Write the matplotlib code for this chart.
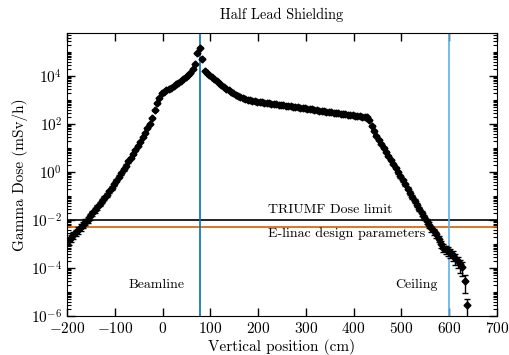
import numpy as np
import matplotlib
matplotlib.use('Agg')
from matplotlib import pyplot as plt
from matplotlib.ticker import LogLocator, LogFormatterSciNotation, MultipleLocator, NullFormatter

plt.rcParams['font.family'] = 'cmr10'
plt.rcParams['mathtext.fontset'] = 'cm'
plt.rcParams['axes.formatter.use_mathtext'] = True
plt.rcParams['font.size'] = 10

# Vertical positions (cm), one every 5 cm
position = np.arange(-197, 639, 5)

# log10 of gamma dose (mSv/h)
log_dose = [
    # -197 .. -2
    -2.85, -2.74, -2.63, -2.52, -2.41, -2.30, -2.19, -2.08, -1.98, -1.85,
    -1.72, -1.59, -1.46, -1.33, -1.20, -1.07, -0.94, -0.81, -0.66, -0.51,
    -0.36, -0.20, -0.05, 0.11, 0.27, 0.44, 0.60, 0.77, 0.93, 1.10,
    1.27, 1.44, 1.62, 1.82, 2.02, 2.25, 2.58, 2.87, 3.10, 3.28,
    # 3 .. 83
    3.34, 3.40, 3.46, 3.52, 3.58, 3.65, 3.72, 3.79, 3.87, 3.95,
    4.04, 4.13, 4.28, 4.49, 4.95, 5.18, 4.72,
    # 88 .. 218
    4.22, 4.12, 4.03, 3.94, 3.86, 3.78, 3.70, 3.62, 3.55, 3.48,
    3.41, 3.35, 3.29, 3.23, 3.18, 3.13, 3.09, 3.05, 3.02, 2.99,
    2.97, 2.95, 2.93, 2.915, 2.90, 2.89, 2.88,
    # 223 .. 428
    2.87, 2.85, 2.84, 2.82, 2.81, 2.80, 2.78, 2.77, 2.75, 2.74,
    2.72, 2.71, 2.70, 2.68, 2.67, 2.65, 2.64, 2.62, 2.61, 2.59,
    2.58, 2.56, 2.54, 2.53, 2.51, 2.50, 2.48, 2.47, 2.45, 2.44,
    2.42, 2.41, 2.40, 2.38, 2.37, 2.36, 2.35, 2.33, 2.32, 2.31,
    2.30, 2.28,
    # 433 .. 638
    2.15, 1.92, 1.72, 1.52, 1.35, 1.18, 1.01, 0.84, 0.67, 0.50,
    0.33, 0.16, -0.01, -0.18, -0.35, -0.52, -0.69, -0.86, -1.03, -1.20,
    -1.37, -1.54, -1.71, -1.88, -2.05, -2.20, -2.35, -2.48, -2.60, -2.78,
    -3.00, -3.15, -3.22, -3.28, -3.35, -3.45, -3.58, -3.70, -3.85, -3.95,
    -4.54, -5.54,
]

# relative error on each point
rel_err = [
    0.35, 0.34, 0.33, 0.32, 0.31, 0.30, 0.29, 0.28, 0.27, 0.26,
    0.25, 0.24, 0.23, 0.22, 0.21, 0.20, 0.19, 0.18, 0.17, 0.16,
    0.15, 0.14, 0.13, 0.12, 0.11, 0.10, 0.10, 0.09, 0.09, 0.08,
    0.08, 0.07, 0.07, 0.06, 0.06, 0.05, 0.05, 0.05, 0.04, 0.04,
    0.04, 0.04, 0.04, 0.04, 0.04, 0.04, 0.04, 0.04, 0.04, 0.04,
    0.04, 0.04, 0.04, 0.04, 0.04, 0.04, 0.04,
    0.04, 0.04, 0.04, 0.04, 0.04, 0.04, 0.04, 0.04, 0.04, 0.04,
    0.04, 0.04, 0.04, 0.04, 0.04, 0.04, 0.04, 0.04, 0.04, 0.04,
    0.04, 0.04, 0.04, 0.04, 0.04, 0.04, 0.04,
    0.04, 0.04, 0.04, 0.04, 0.04, 0.04, 0.04, 0.04, 0.04, 0.04,
    0.04, 0.04, 0.04, 0.04, 0.04, 0.04, 0.04, 0.04, 0.04, 0.04,
    0.04, 0.04, 0.04, 0.04, 0.04, 0.04, 0.04, 0.04, 0.04, 0.04,
    0.04, 0.04, 0.04, 0.04, 0.04, 0.04, 0.04, 0.04, 0.04, 0.04,
    0.04, 0.04,
    0.05, 0.05, 0.06, 0.06, 0.07, 0.07, 0.08, 0.08, 0.09, 0.09,
    0.10, 0.11, 0.12, 0.13, 0.14, 0.15, 0.16, 0.17, 0.18, 0.19,
    0.20, 0.21, 0.22, 0.23, 0.24, 0.25, 0.26, 0.27, 0.28, 0.30,
    0.32, 0.35, 0.38, 0.40, 0.42, 0.45, 0.48, 0.50, 0.55, 0.60,
    0.70, 0.70,
]

beamline_pos = 78
ceiling_pos = 600
dose_limit = 1e-2
design_limit = 5e-3

dose = 10.0 ** np.array(log_dose)
err = dose * np.array(rel_err)

fig = plt.figure(figsize=(5.09, 3.55), dpi=100)
ax = fig.add_axes([0.132, 0.110, 0.844, 0.796])

ax.errorbar(position, dose, yerr=err, fmt='D', color='black', ms=3.5,
            elinewidth=1, capsize=2.5, capthick=1, zorder=3)

ax.axhline(dose_limit, color='black', lw=1.2)
ax.axhline(design_limit, color='#D55E00', lw=1.2)
ax.axvline(beamline_pos, color='#0072B2', lw=1.2)
ax.axvline(ceiling_pos, color='#56B4E9', lw=1.2)

ax.text(220, 2.5e-2, 'TRIUMF Dose limit', va='center', ha='left', fontsize=10)
ax.text(220, 2.8e-3, 'E-linac design parameters', va='center', ha='left', fontsize=10)
ax.text(-72, 2e-5, 'Beamline', va='center', ha='left', fontsize=10)
ax.text(488, 2e-5, 'Ceiling', va='center', ha='left', fontsize=10)

ax.set_yscale('log')
ax.set_xlim(-200, 700)
ax.set_ylim(1e-6, 6e5)
ax.xaxis.set_major_locator(MultipleLocator(100))
ax.yaxis.set_major_locator(LogLocator(base=100, numticks=20))
ax.yaxis.set_major_formatter(LogFormatterSciNotation(base=10))
ax.yaxis.set_minor_locator(LogLocator(base=10, subs=np.arange(1, 10), numticks=100))
ax.yaxis.set_minor_formatter(NullFormatter())

ax.tick_params(which='both', direction='in', top=True, right=True, labelsize=11)
ax.tick_params(which='major', length=6, width=1)
ax.tick_params(which='minor', length=3, width=0.8)

ax.set_xlabel('Vertical position (cm)', fontsize=11, labelpad=2)
ax.set_ylabel('Gamma Dose (mSv/h)', fontsize=11, labelpad=2)
ax.set_title('Half Lead Shielding', pad=10, fontsize=10.3)

fig.savefig('out.png', dpi=100)
